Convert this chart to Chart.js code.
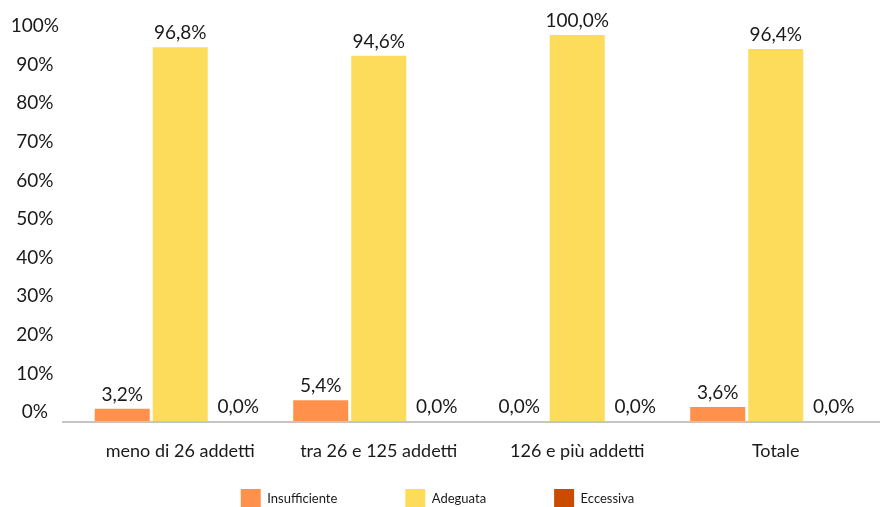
<!DOCTYPE html>
<html>
<head>
<meta charset="utf-8">
<script src="https://cdn.jsdelivr.net/npm/chart.js@4.4.0/dist/chart.umd.min.js"></script>
<style>
  html, body { margin: 0; padding: 0; background: #ffffff; overflow: hidden; }
  #wrap { width: 880px; height: 507px; position: relative; }
</style>
</head>
<body>
<div id="wrap"><canvas id="c" width="880" height="507"></canvas></div>
<script>
const categories = ["meno di 26 addetti", "tra 26 e 125 addetti", "126 e più addetti", "Totale"];
const seriesNames = ["Insufficiente", "Adeguata", "Eccessiva"];
const insufficiente = [3.2, 5.4, 0.0, 3.6];
const adeguata = [96.8, 94.6, 100.0, 96.4];
const eccessiva = [0.0, 0.0, 0.0, 0.0];
const seriesColors = ["#FF914D", "#FDDC5C", "#C94C00"];

const FONT = "Lato, 'Open Sans', sans-serif";
const TEXT = "#1a1a1a";

function fmt(v) { return v.toFixed(1).replace('.', ',') + '%'; }

const baselinePlugin = {
  id: 'baseline',
  beforeDatasetsDraw(chart) {
    const {ctx, chartArea, scales} = chart;
    const y = scales.y.getPixelForValue(0);
    ctx.save();
    ctx.strokeStyle = '#c4c4c4';
    ctx.lineWidth = 2;
    ctx.beginPath();
    ctx.moveTo(chartArea.left - 19, y + 1);
    ctx.lineTo(chart.width, y + 1);
    ctx.stroke();
    ctx.restore();
  }
};

const labelPlugin = {
  id: 'valueLabels',
  afterDatasetsDraw(chart) {
    const {ctx} = chart;
    ctx.save();
    ctx.font = "19px " + FONT;
    ctx.fillStyle = TEXT;
    ctx.textAlign = 'center';
    ctx.textBaseline = 'middle';
    chart.data.datasets.forEach((ds, i) => {
      const meta = chart.getDatasetMeta(i);
      meta.data.forEach((bar, j) => {
        ctx.fillText(fmt(ds.data[j]), bar.x, bar.y - 14);
      });
    });
    ctx.restore();
  }
};

new Chart(document.getElementById('c'), {
  type: 'bar',
  data: {
    labels: categories,
    datasets: [
      { label: seriesNames[0], data: insufficiente, backgroundColor: seriesColors[0] },
      { label: seriesNames[1], data: adeguata, backgroundColor: seriesColors[1] },
      { label: seriesNames[2], data: eccessiva, backgroundColor: seriesColors[2] }
    ]
  },
  options: {
    responsive: false,
    animation: false,
    devicePixelRatio: 1,
    categoryPercentage: 0.877,
    barPercentage: 0.948,
    layout: { padding: { left: 0, right: 5, top: 35, bottom: -12 } },
    plugins: {
      tooltip: { enabled: false },
      legend: {
        position: 'bottom',
        labels: {
          boxWidth: 20,
          boxHeight: 20,
          padding: 68,
          color: TEXT,
          font: { family: FONT, size: 13 }
        }
      }
    },
    scales: {
      x: {
        grid: { display: false, drawTicks: false },
        border: { display: false },
        ticks: { color: TEXT, font: { family: FONT, size: 18 }, mirror: true, padding: -41, maxRotation: 0, autoSkip: false },
        afterFit(scale) { scale.height = 0; }
      },
      y: {
        min: 0,
        max: 100,
        grid: { display: false, drawTicks: false },
        border: { display: false },
        ticks: {
          stepSize: 10,
          color: TEXT,
          crossAlign: 'center',
          padding: 22,
          labelOffset: -9,
          font: { family: FONT, size: 19 },
          callback: (v) => v + '%'
        },
        afterFit(scale) { scale.width = 81; }
      }
    }
  },
  plugins: [baselinePlugin, labelPlugin]
});
</script>
</body>
</html>
